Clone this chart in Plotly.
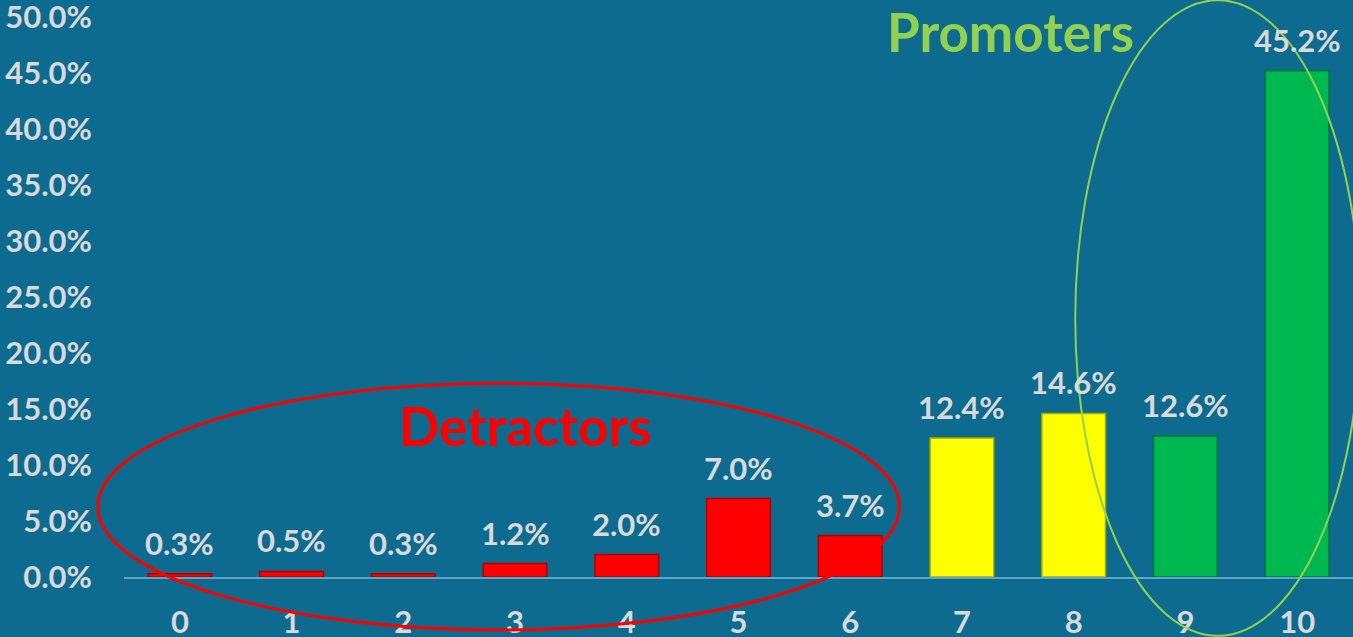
import plotly.graph_objects as go

# NPS score distribution
scores = [0, 1, 2, 3, 4, 5, 6, 7, 8, 9, 10]
shares = [0.3, 0.5, 0.3, 1.2, 2.0, 7.0, 3.7, 12.4, 14.6, 12.6, 45.2]
bar_colors = ["#FF0000"] * 7 + ["#FFFF00"] * 2 + ["#00B850"] * 2
edge_colors = ["#B00000"] * 7 + ["#A8A800"] * 2 + ["#00773A"] * 2
y_ticks = [0, 5, 10, 15, 20, 25, 30, 35, 40, 45, 50]

BG = "#0C6B8E"
TXT = "#D9D9D9"
FONT = "Lato"

fig = go.Figure()
fig.add_trace(go.Bar(
    x=scores, y=shares,
    marker=dict(color=bar_colors, line=dict(color=edge_colors, width=1.5)),
    width=0.57,
    hoverinfo="skip",
))

# value labels above bars
for s, v in zip(scores, shares):
    fig.add_annotation(
        x=s, y=v, text=f"{v:.1f}%", showarrow=False,
        yanchor="bottom", yshift=10,
        font=dict(family=FONT, size=31, color=TXT, weight="bold"),
    )

# groups
fig.add_shape(type="circle", xref="paper", yref="paper",
              x0=-0.0212, x1=0.631, y0=-0.0946, y1=0.346,
              line=dict(color="#FF0000", width=3))
fig.add_shape(type="circle", xref="paper", yref="paper",
              x0=0.774, x1=1.006, y0=-0.105, y1=1.03,
              line=dict(color="#92D050", width=2))
fig.add_annotation(xref="paper", yref="paper", x=(525 - 124) / 1229, y=(577 - 425) / 560,
                   xanchor="center", yanchor="middle",
                   text="Detractors", showarrow=False,
                   font=dict(family=FONT, size=53, color="#FF0000", weight="bold"))
fig.add_annotation(xref="paper", yref="paper", x=(1010 - 124) / 1229, y=(577 - 31) / 560,
                   xanchor="center", yanchor="middle",
                   text="Promoters", showarrow=False,
                   font=dict(family=FONT, size=53, color="#92D050", weight="bold"))

fig.update_layout(
    width=1353, height=637,
    margin=dict(l=124, r=0, t=17, b=60),
    paper_bgcolor=BG, plot_bgcolor=BG,
    showlegend=False,
    font=dict(family=FONT, color=TXT),
    xaxis=dict(
        range=[-0.5, 10.5], tickmode="array", tickvals=scores,
        ticktext=[str(s) for s in scores],
        showgrid=False, zeroline=False, automargin=False,
        showline=True, linecolor="#5FA6CB", linewidth=1.5,
        ticks="", ticklabelstandoff=17, ticklabeloverflow="allow",
        tickfont=dict(family=FONT, size=31, color=TXT, weight="bold"),
    ),
    yaxis=dict(
        range=[0, 50], tickmode="array", tickvals=y_ticks,
        ticktext=[f"{t:.1f}%" for t in y_ticks],
        showgrid=False, zeroline=False, showline=False, automargin=False,
        ticks="", ticklabelstandoff=31, ticklabeloverflow="allow",
        tickfont=dict(family=FONT, size=31, color=TXT, weight="bold"),
    ),
)

fig.write_html("out.html", config={"displayModeBar": False},
               post_script="document.body.style.margin='0';")
